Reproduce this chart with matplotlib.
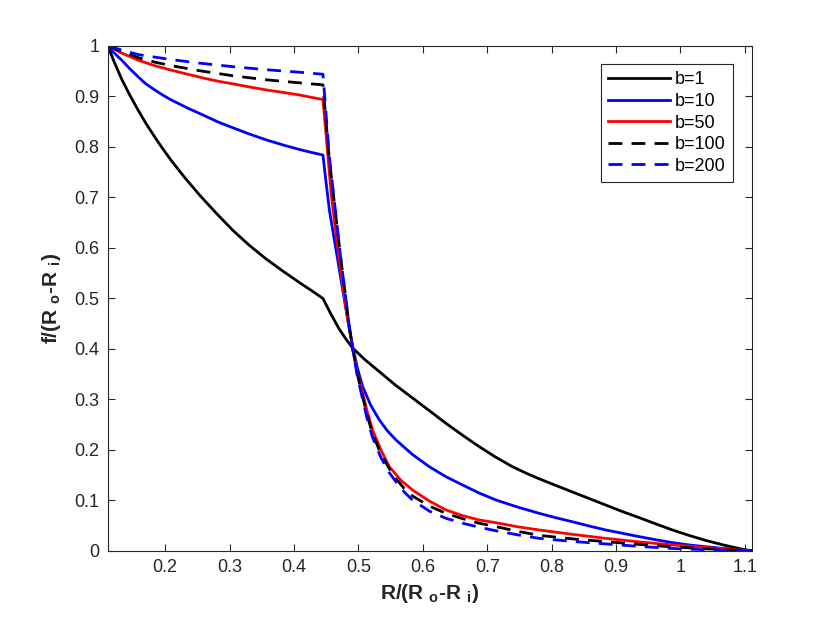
import numpy as np
import matplotlib
matplotlib.use('Agg')
import matplotlib.pyplot as plt
from matplotlib.ticker import FuncFormatter

plt.rcParams['font.family'] = ['Liberation Sans', 'DejaVu Sans']
plt.rcParams['mathtext.fontset'] = 'custom'
plt.rcParams['mathtext.rm'] = 'Liberation Sans'
plt.rcParams['mathtext.bf'] = 'Liberation Sans:bold'

# values
x_b1 = [0.1111, 0.12, 0.1326, 0.145, 0.158, 0.17, 0.1837, 0.196, 0.2096, 0.23,
        0.254, 0.28, 0.305, 0.33, 0.357, 0.383, 0.409, 0.428, 0.445,
        0.457, 0.470, 0.481, 0.491, 0.510, 0.5326, 0.558, 0.584, 0.610, 0.636,
        0.662, 0.6876, 0.713, 0.739, 0.7606, 0.7806, 0.806, 0.832, 0.858, 0.884,
        0.910, 0.936, 0.962, 0.9876, 1.013, 1.039, 1.068, 1.0961, 1.1111]
y_b1 = [1.0, 0.971, 0.934, 0.903, 0.873, 0.847, 0.820, 0.797, 0.773, 0.740,
        0.704, 0.668, 0.635, 0.606, 0.578, 0.554, 0.531, 0.515, 0.500,
        0.470, 0.440, 0.419, 0.402, 0.379, 0.355, 0.328, 0.303, 0.278, 0.2528,
        0.229, 0.2066, 0.186, 0.167, 0.154, 0.143, 0.130, 0.117, 0.104, 0.091,
        0.078, 0.066, 0.0535, 0.0416, 0.031, 0.021, 0.0115, 0.0035, 0.0]

x_b10 = [0.1111, 0.12, 0.1326, 0.145, 0.158, 0.17, 0.1837, 0.196, 0.2096, 0.235,
         0.261, 0.283, 0.3052, 0.33, 0.357, 0.383, 0.4085, 0.428, 0.445,
         0.450, 0.455, 0.4615, 0.468, 0.4745, 0.481, 0.486, 0.4912, 0.4985, 0.5067,
         0.519, 0.5326, 0.545, 0.5584, 0.584, 0.610, 0.636, 0.6617, 0.687, 0.7135,
         0.747, 0.7806, 0.806, 0.832, 0.858, 0.884, 0.910, 0.936, 0.962, 0.9876,
         1.013, 1.039, 1.075, 1.1111]
y_b10 = [1.0, 0.987, 0.972, 0.955, 0.939, 0.925, 0.913, 0.903, 0.893, 0.877,
         0.862, 0.849, 0.838, 0.826, 0.814, 0.804, 0.795, 0.789, 0.784,
         0.728, 0.675, 0.625, 0.576, 0.526, 0.477, 0.441, 0.405, 0.362, 0.3254,
         0.289, 0.2594, 0.238, 0.2198, 0.191, 0.167, 0.147, 0.1307, 0.115, 0.101,
         0.087, 0.0746, 0.066, 0.058, 0.0495, 0.0416, 0.035, 0.0284, 0.0222, 0.0165,
         0.012, 0.0085, 0.004, 0.0]

x_b50 = [0.1111, 0.1326, 0.158, 0.1837, 0.2096, 0.235, 0.261, 0.283, 0.3052, 0.33,
         0.357, 0.383, 0.4085, 0.428, 0.445,
         0.4515, 0.4577, 0.464, 0.4705, 0.477, 0.4834, 0.4912, 0.4985, 0.5067, 0.514,
         0.522, 0.535, 0.548, 0.566, 0.584, 0.610, 0.636, 0.6617, 0.6876, 0.7135,
         0.747, 0.7806, 0.832, 0.884, 0.936, 0.9876, 1.039, 1.075, 1.1111]
y_b50 = [1.0, 0.986, 0.972, 0.961, 0.952, 0.944, 0.936, 0.930, 0.925, 0.919,
         0.913, 0.908, 0.903, 0.898, 0.894,
         0.800, 0.708, 0.640, 0.576, 0.515, 0.457, 0.402, 0.352, 0.312, 0.275,
         0.2396, 0.200, 0.167, 0.140, 0.1208, 0.099, 0.0812, 0.070, 0.0614, 0.056,
         0.048, 0.0416, 0.033, 0.025, 0.018, 0.012, 0.007, 0.0035, 0.0]

x_b100 = [0.1111, 0.1326, 0.158, 0.1837, 0.2096, 0.2535, 0.3052, 0.357, 0.4085, 0.445,
          0.450, 0.455, 0.464, 0.473, 0.4795, 0.486, 0.4912, 0.4985, 0.5067, 0.514,
          0.522, 0.535, 0.548, 0.5584, 0.571, 0.584, 0.610, 0.636, 0.6617, 0.6876,
          0.7135, 0.747, 0.7806, 0.832, 0.884, 0.936, 0.9876, 1.039, 1.1111]
y_b100 = [1.0, 0.989, 0.977, 0.968, 0.961, 0.951, 0.941, 0.933, 0.927, 0.923,
          0.848, 0.774, 0.675, 0.576, 0.510, 0.444, 0.400, 0.350, 0.305, 0.267,
          0.232, 0.192, 0.163, 0.143, 0.124, 0.109, 0.089, 0.0746, 0.064, 0.055,
          0.0482, 0.039, 0.031, 0.024, 0.0185, 0.013, 0.008, 0.0045, 0.0]

x_b200 = [0.1111, 0.1326, 0.158, 0.1837, 0.2096, 0.2535, 0.3052, 0.357, 0.4085, 0.445,
          0.450, 0.455, 0.464, 0.473, 0.4795, 0.486, 0.4912, 0.4985, 0.5067, 0.514,
          0.522, 0.535, 0.548, 0.5584, 0.571, 0.584, 0.610, 0.636, 0.6617, 0.6876,
          0.7135, 0.747, 0.7806, 0.832, 0.884, 0.936, 0.9876, 1.039, 1.1111]
y_b200 = [1.0, 0.992, 0.983, 0.978, 0.973, 0.966, 0.959, 0.953, 0.948, 0.944,
          0.862, 0.780, 0.678, 0.576, 0.510, 0.444, 0.400, 0.345, 0.300, 0.260,
          0.225, 0.185, 0.155, 0.137, 0.117, 0.101, 0.079, 0.0647, 0.055, 0.047,
          0.040, 0.032, 0.025, 0.019, 0.014, 0.009, 0.005, 0.0025, 0.0]

labels = ['b=1', 'b=10', 'b=50', 'b=100', 'b=200']
xticks = [0.2, 0.3, 0.4, 0.5, 0.6, 0.7, 0.8, 0.9, 1.0, 1.1]
yticks = [0, 0.1, 0.2, 0.3, 0.4, 0.5, 0.6, 0.7, 0.8, 0.9, 1.0]

fig = plt.figure(figsize=(8.3, 6.23), dpi=100)
ax = fig.add_axes([0.130, 0.1156, 0.776, 0.8106])

lw = 2.0
dash = (0, (5, 3.3))
ax.plot(x_b1, y_b1, color='k', lw=lw, label=labels[0])
ax.plot(x_b10, y_b10, color='b', lw=lw, label=labels[1])
ax.plot(x_b50, y_b50, color='r', lw=lw, label=labels[2])
ax.plot(x_b100, y_b100, color='k', lw=lw, ls=dash, label=labels[3])
ax.plot(x_b200, y_b200, color='b', lw=lw, ls=dash, label=labels[4])

ax.set_xlim(0.1111, 1.1111)
ax.set_ylim(0, 1)
ax.set_xticks(xticks)
ax.set_yticks(yticks)
fmt = FuncFormatter(lambda v, p: '%g' % round(v, 2))
ax.xaxis.set_major_formatter(fmt)
ax.yaxis.set_major_formatter(fmt)

grey = (0.15, 0.15, 0.15)
ax.tick_params(direction='in', length=5, width=0.8, top=True, right=True,
               labelsize=13, colors=grey, pad=6)
for s in ax.spines.values():
    s.set_color(grey)
    s.set_linewidth(0.8)

ax.set_xlabel(r'R/(R $_\mathbf{o}$-R $_\mathbf{i}$)', fontsize=15, fontweight='bold',
              color=grey, labelpad=4)
ax.set_ylabel(r'f/(R $_\mathbf{o}$-R $_\mathbf{i}$)', fontsize=15, fontweight='bold',
              color=grey, labelpad=8)

leg = ax.legend(loc='upper right', bbox_to_anchor=(0.9705, 0.9638), borderaxespad=0,
                fontsize=13, fancybox=False, framealpha=1, edgecolor=grey,
                handlelength=3.4, handletextpad=0.3, labelspacing=0.25,
                borderpad=0.4)
leg.get_frame().set_linewidth(0.8)

fig.savefig('out.png', dpi=100)
